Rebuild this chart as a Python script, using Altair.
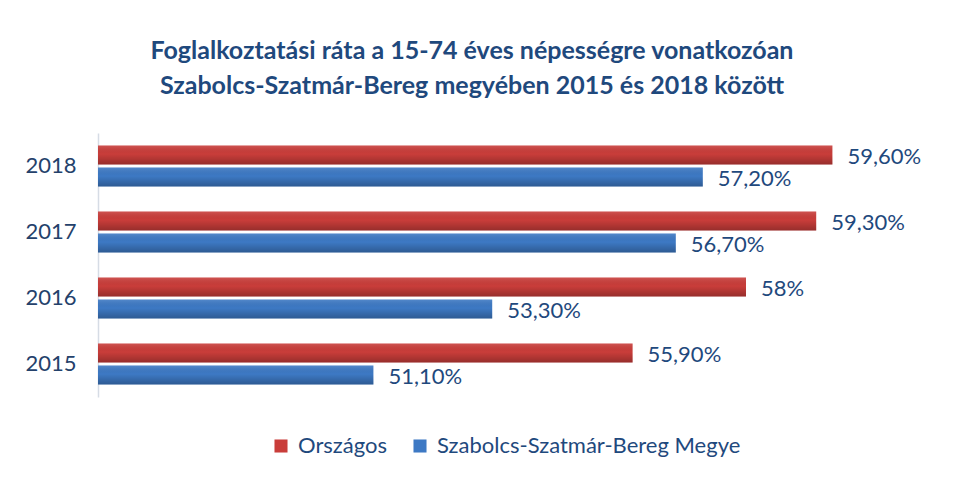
import altair as alt
import pandas as pd

years = ["2018", "2017", "2016", "2015"]
series = ["Országos", "Szabolcs-Szatmár-Bereg Megye"]
orszagos = [59.6, 59.3, 58.0, 55.9]
megye = [57.2, 56.7, 53.3, 51.1]
orszagos_labels = ["59,60%", "59,30%", "58%", "55,90%"]
megye_labels = ["57,20%", "56,70%", "53,30%", "51,10%"]
colors = ["#c93d3a", "#3d79c4"]

rows = []
for i, yr in enumerate(years):
    rows.append(dict(year=yr, series=series[0], value=orszagos[i], label=orszagos_labels[i]))
    rows.append(dict(year=yr, series=series[1], value=megye[i], label=megye_labels[i]))
df = pd.DataFrame(rows)

FONT = "Lato"
TXT = "#1f497d"

x = alt.X("value:Q", scale=alt.Scale(domain=[46, 62], nice=False, zero=False), axis=None)
y = alt.Y(
    "year:N",
    sort=years,
    scale=alt.Scale(paddingInner=0.38, paddingOuter=0.19),
    axis=alt.Axis(title=None, ticks=False, domain=True, domainColor="#d6dce5",
                  domainWidth=1.5, labelFontSize=22, labelColor="#24416b",
                  labelPadding=22, labelFont=FONT, grid=False),
)
yoff = alt.YOffset("series:N", sort=series, scale=alt.Scale(paddingInner=0.136, paddingOuter=0))

base = alt.Chart(df)

bars = base.mark_bar().encode(
    x=x,
    x2=alt.datum(46),
    y=y,
    yOffset=yoff,
    color=alt.Color(
        "series:N",
        sort=series,
        scale=alt.Scale(domain=series, range=colors),
        legend=alt.Legend(title=None, orient="none", legendX=172, legendY=302,
                          direction="horizontal", symbolType="square", symbolSize=170,
                          labelFontSize=22, labelColor=TXT, labelFont=FONT, labelLimit=0,
                          columnPadding=21, labelOffset=6, symbolStrokeWidth=0),
    ),
)

grad = alt.LinearGradient(
    gradient="linear",
    stops=[
        alt.GradientStop(color="rgba(255,255,255,0.12)", offset=0),
        alt.GradientStop(color="rgba(0,0,0,0.0)", offset=0.45),
        alt.GradientStop(color="rgba(0,0,0,0.25)", offset=1),
    ],
    x1=0, x2=0, y1=0, y2=1,
)

overlay = base.mark_bar(color=grad).encode(
    x=x,
    x2=alt.datum(46),
    y=y,
    yOffset=yoff,
)

text = base.mark_text(align="left", baseline="middle", dx=15, dy=2,
                      fontSize=22, color=TXT, font=FONT).encode(
    x=x,
    y=y,
    yOffset=yoff,
    text="label:N",
)

chart = alt.layer(bars, overlay, text).properties(
    width=864,
    height=264,
    autosize=alt.AutoSizeParams(type="none"),
    padding={"left": 90, "top": 125, "right": 8, "bottom": 74},
    background="white",
    title=alt.TitleParams(
        text=["Foglalkoztatási ráta a 15-74 éves népességre vonatkozóan",
              "Szabolcs-Szatmár-Bereg megyében 2015 és 2018 között"],
        fontSize=25, font=FONT, fontWeight="bold", color=TXT,
        anchor="middle", dx=-58, offset=34, lineHeight=35,
    ),
).configure_view(stroke=None)

chart.save("out.html", embed_options={"renderer": "svg", "actions": False})
